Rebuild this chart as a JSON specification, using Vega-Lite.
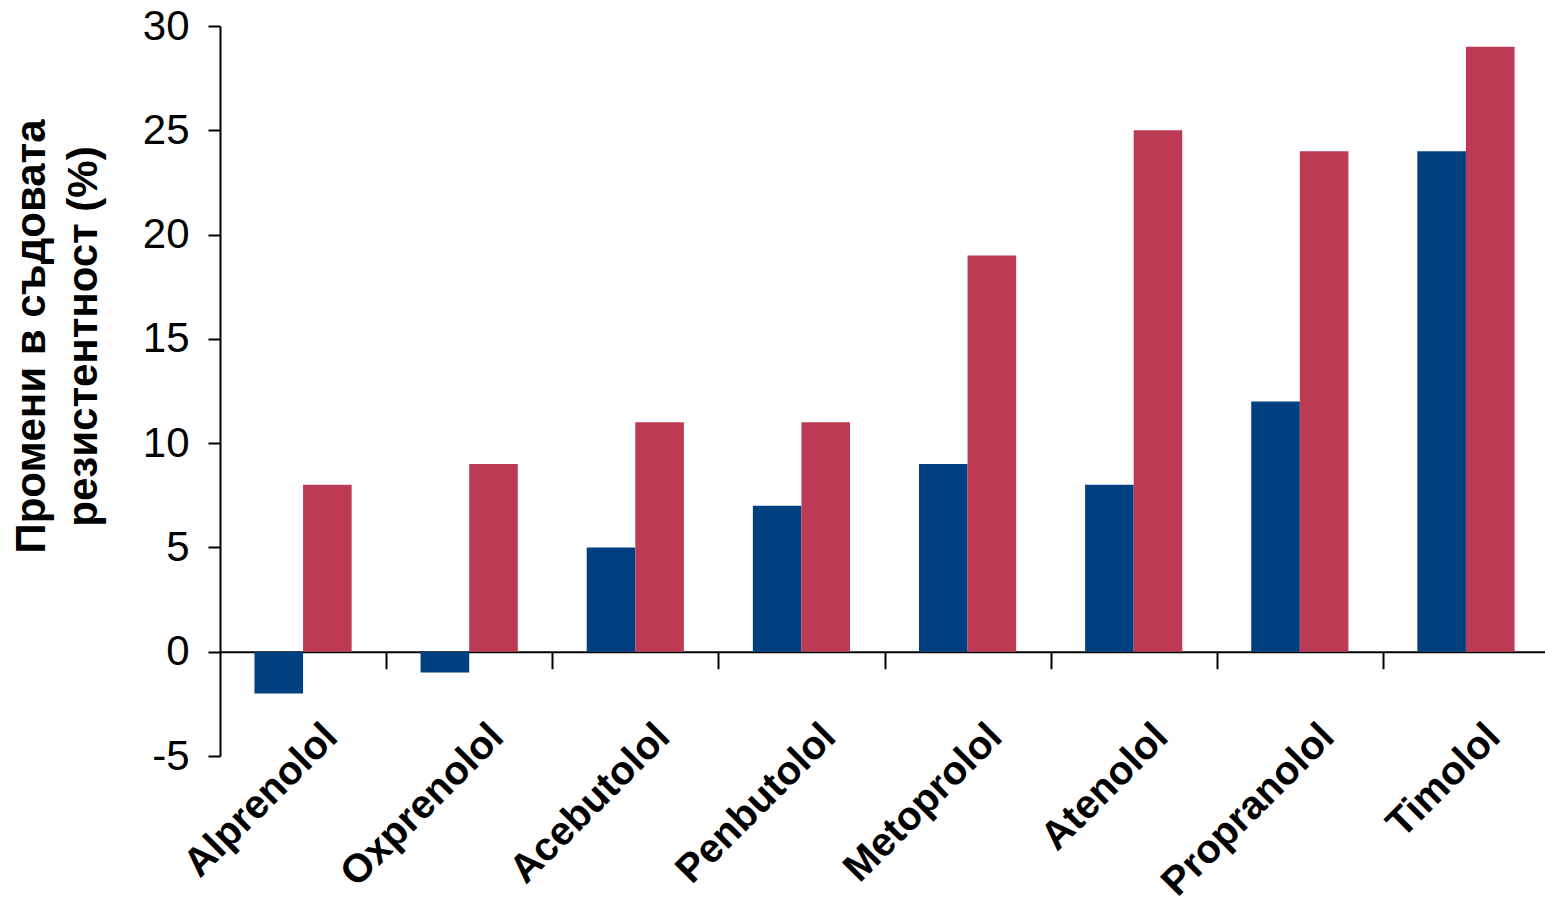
{
  "$schema": "https://vega.github.io/schema/vega-lite/v6.json",
  "width": 1325,
  "height": 730,
  "autosize": {"type": "none"},
  "padding": {"left": 220, "top": 26, "right": 0, "bottom": 159},
  "background": "white",
  "config": {"view": {"stroke": null}, "font": "Liberation Sans"},
  "data": {
    "values": [
      {"drug": "Alprenolol", "series": "Серия 1", "value": -2},
      {"drug": "Alprenolol", "series": "Серия 2", "value": 8},
      {"drug": "Oxprenolol", "series": "Серия 1", "value": -1},
      {"drug": "Oxprenolol", "series": "Серия 2", "value": 9},
      {"drug": "Acebutolol", "series": "Серия 1", "value": 5},
      {"drug": "Acebutolol", "series": "Серия 2", "value": 11},
      {"drug": "Penbutolol", "series": "Серия 1", "value": 7},
      {"drug": "Penbutolol", "series": "Серия 2", "value": 11},
      {"drug": "Metoprolol", "series": "Серия 1", "value": 9},
      {"drug": "Metoprolol", "series": "Серия 2", "value": 19},
      {"drug": "Atenolol", "series": "Серия 1", "value": 8},
      {"drug": "Atenolol", "series": "Серия 2", "value": 25},
      {"drug": "Propranolol", "series": "Серия 1", "value": 12},
      {"drug": "Propranolol", "series": "Серия 2", "value": 24},
      {"drug": "Timolol", "series": "Серия 1", "value": 24},
      {"drug": "Timolol", "series": "Серия 2", "value": 29}
    ]
  },
  "mark": {"type": "bar"},
  "encoding": {
    "x": {
      "field": "drug",
      "type": "nominal",
      "sort": null,
      "scale": {"range": [0, 1329], "paddingInner": 0.415, "paddingOuter": 0.2075},
      "axis": {
        "title": null,
        "orient": "bottom",
        "offset": -104.286,
        "domainColor": "black",
        "domainWidth": 2,
        "bandPosition": 1,
        "tickOffset": 34.5,
        "tickColor": "black",
        "tickWidth": 2,
        "tickSize": 17,
        "labelAngle": -45,
        "labelAlign": "right",
        "labelBaseline": "alphabetic",
        "labelFont": "Liberation Sans",
        "labelFontWeight": "bold",
        "labelFontSize": 40,
        "labelColor": "black",
        "labelLimit": 0,
        "labelPadding": 70,
        "labelOffset": 1.5,
        "labelOverlap": false,
        "labelBound": false,
        "labelFlush": false,
        "grid": false
      }
    },
    "xOffset": {
      "field": "series",
      "type": "nominal",
      "sort": null,
      "scale": {"paddingInner": 0, "paddingOuter": 0}
    },
    "y": {
      "field": "value",
      "type": "quantitative",
      "scale": {"domain": [-5, 30], "nice": false, "zero": false},
      "axis": {
        "title": ["Промени в съдовата", "резистентност (%)"],
        "titleFont": "Liberation Sans",
        "titleFontSize": 42,
        "titleFontWeight": "bold",
        "titleColor": "black",
        "titleAngle": 270,
        "titleAlign": "center",
        "titleBaseline": "alphabetic",
        "titleX": -176,
        "titleY": 310,
        "titleLineHeight": 52,
        "values": [-5, 0, 5, 10, 15, 20, 25, 30],
        "labelExpr": "'' + datum.value",
        "grid": false,
        "domainColor": "black",
        "domainWidth": 2,
        "tickColor": "black",
        "tickWidth": 2,
        "tickSize": 12,
        "labelFont": "Liberation Sans",
        "labelFontSize": 42,
        "labelColor": "black",
        "labelPadding": 19
      }
    },
    "color": {
      "field": "series",
      "type": "nominal",
      "sort": null,
      "scale": {"range": ["#004080", "#BC3A54"]},
      "legend": null
    }
  }
}
